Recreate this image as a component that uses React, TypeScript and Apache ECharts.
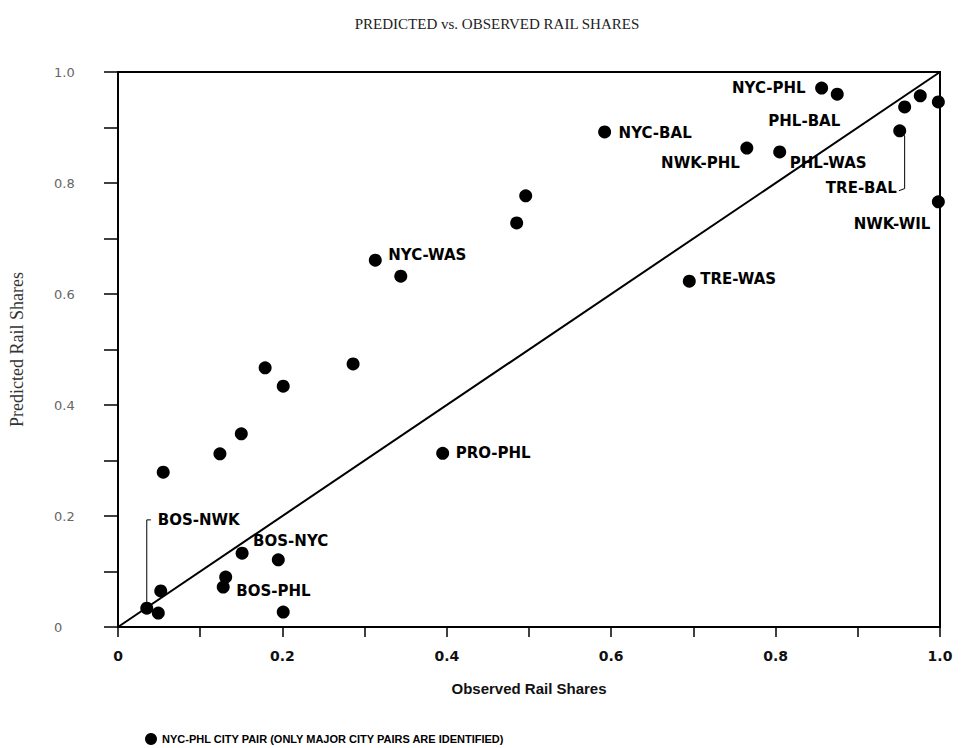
import React, { useEffect, useRef } from "react";
import * as echarts from "echarts";

// Observed (x) and predicted (y) rail shares for each city pair
const observed = [
  0.035, 0.049, 0.052, 0.151, 0.195, 0.131, 0.128, 0.201, 0.055, 0.124,
  0.150, 0.179, 0.201, 0.286, 0.313, 0.344, 0.485, 0.496, 0.395, 0.592,
  0.765, 0.805, 0.856, 0.875, 0.957, 0.976, 0.998, 0.951, 0.998, 0.695,
];
const predicted = [
  0.034, 0.025, 0.065, 0.133, 0.121, 0.090, 0.072, 0.027, 0.279, 0.312,
  0.348, 0.467, 0.434, 0.474, 0.661, 0.632, 0.728, 0.777, 0.313, 0.892,
  0.863, 0.856, 0.971, 0.960, 0.937, 0.957, 0.946, 0.894, 0.766, 0.623,
];
const pairNames = [
  "BOS-NWK", "", "", "BOS-NYC", "", "", "BOS-PHL", "", "", "",
  "", "", "", "", "NYC-WAS", "", "", "", "PRO-PHL", "NYC-BAL",
  "NWK-PHL", "PHL-WAS", "NYC-PHL", "PHL-BAL", "", "", "", "TRE-BAL", "NWK-WIL", "TRE-WAS",
];
const xTickLabels = ["0", "0.2", "0.4", "0.6", "0.8", "1.0"];
const yTickLabels = ["0", "0.2", "0.4", "0.6", "0.8", "1.0"];
const perfectFit = [
  [0, 0],
  [1, 1],
];
// leader lines joining labels to their points
const leaderBosNwk = [
  [0.035, 0.034],
  [0.035, 0.193],
  [0.040, 0.193],
];
const leaderTreBal = [
  [0.951, 0.894],
  [0.957, 0.885],
  [0.957, 0.790],
  [0.950, 0.786],
];
const legendName = "NYC-PHL CITY PAIR (ONLY MAJOR CITY PAIRS ARE IDENTIFIED)";

const SYM = 13;
// label placement: [align, dx, dy] relative to point centre
const labelPlace: Record<string, [string, number, number]> = {
  "BOS-NWK": ["left", 11, -88],
  "BOS-NYC": ["left", 11, -12],
  "BOS-PHL": ["left", 13, 4],
  "NYC-WAS": ["left", 13, -5],
  "PRO-PHL": ["left", 13, 0],
  "NYC-BAL": ["left", 14, 1],
  "NWK-PHL": ["right", -7, 15],
  "PHL-WAS": ["left", 10, 11],
  "NYC-PHL": ["right", -16, 0],
  "PHL-BAL": ["right", 3, 27],
  "TRE-BAL": ["right", -3, 57],
  "NWK-WIL": ["right", -8, 22],
  "TRE-WAS": ["left", 11, -2],
};

export default function App() {
  const ref = useRef<HTMLDivElement>(null);
  useEffect(() => {
    if (!ref.current) return;
    const chart = echarts.init(ref.current, null, { renderer: "svg" });
    const points = observed.map((x, i) => {
      const name = pairNames[i];
      const item: any = { value: [x, predicted[i]] };
      if (name && labelPlace[name]) {
        const [align, dx, dy] = labelPlace[name];
        item.label = {
          show: true,
          formatter: name,
          position: [SYM / 2 + dx, SYM / 2 + dy],
          align,
          verticalAlign: "middle",
          fontFamily: "DejaVu Sans",
          fontWeight: "bold",
          fontSize: 15,
          color: "#000",
        };
      }
      return item;
    });
    const fmt = (labels: string[]) => (v: number) => {
      const k = Math.round(v * 10);
      return k % 2 === 0 ? labels[k / 2] : "";
    };
    chart.setOption({
      animation: false,
      backgroundColor: "#fff",
      graphic: [
        {
          type: "text",
          x: 497,
          y: 24,
          style: {
            text: "PREDICTED vs. OBSERVED RAIL SHARES",
            fontFamily: "Liberation Serif",
            fontSize: 15,
            fill: "#222",
            align: "center",
            verticalAlign: "middle",
          },
        },
      ],
      grid: {
        left: 118,
        right: 22,
        top: 72,
        bottom: 121,
        show: true,
        borderColor: "#000",
        borderWidth: 2,
      },
      legend: {
        left: 140,
        top: 728,
        itemWidth: 12,
        itemHeight: 12,
        data: [{ name: legendName, icon: "circle" }],
        itemStyle: { color: "#000", opacity: 1 },
        textStyle: {
          fontFamily: "Liberation Sans Narrow, Liberation Sans",
          fontWeight: "bold",
          fontSize: 11,
          color: "#000",
        },
      },
      xAxis: {
        type: "value",
        min: 0,
        max: 1,
        interval: 0.1,
        name: "Observed Rail Shares",
        nameLocation: "middle",
        nameGap: 54,
        nameTextStyle: {
          fontFamily: "Liberation Sans",
          fontWeight: "bold",
          fontSize: 15,
          color: "#111",
        },
        axisLine: { lineStyle: { color: "#000", width: 2 } },
        axisTick: { show: true, length: 10, lineStyle: { color: "#000", width: 1.5 } },
        axisLabel: {
          formatter: fmt(xTickLabels),
          margin: 22,
          fontFamily: "DejaVu Sans",
          fontWeight: "bold",
          fontSize: 14,
          color: "#111",
        },
        splitLine: { show: false },
      },
      yAxis: {
        type: "value",
        min: 0,
        max: 1,
        interval: 0.1,
        name: "Predicted Rail Shares",
        nameLocation: "middle",
        nameGap: 92,
        nameTextStyle: {
          fontFamily: "Liberation Serif",
          fontSize: 18,
          color: "#333",
        },
        axisLine: { lineStyle: { color: "#000", width: 2 } },
        axisTick: { show: true, length: 14, lineStyle: { color: "#000", width: 1.5 } },
        axisLabel: {
          formatter: fmt(yTickLabels),
          margin: 64,
          align: "left",
          fontFamily: "DejaVu Sans",
          fontSize: 13,
          color: "#666",
        },
        splitLine: { show: false },
      },
      series: [
        {
          type: "line",
          data: perfectFit,
          symbol: "none",
          silent: true,
          lineStyle: { color: "#000", width: 2 },
        },
        {
          type: "line",
          data: leaderBosNwk,
          symbol: "none",
          silent: true,
          lineStyle: { color: "#000", width: 1 },
        },
        {
          type: "line",
          data: leaderTreBal,
          symbol: "none",
          silent: true,
          lineStyle: { color: "#000", width: 1 },
        },
        {
          name: legendName,
          type: "scatter",
          symbol: "circle",
          symbolSize: SYM,
          itemStyle: { color: "#000", opacity: 1 },
          data: points,
          z: 5,
        },
      ],
    });
    return () => chart.dispose();
  }, []);
  return (
    <div
      ref={ref}
      style={{ position: "fixed", left: 0, top: 0, width: 962, height: 748 }}
    />
  );
}
